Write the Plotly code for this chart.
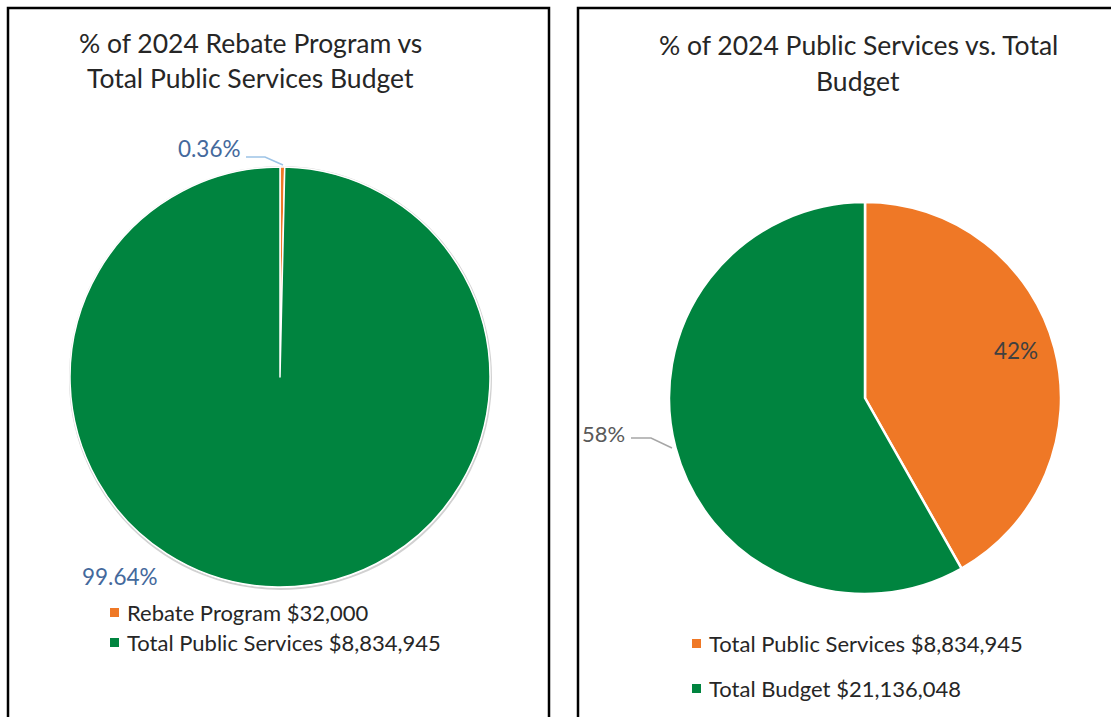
import plotly.graph_objects as go

# ---- data ----
rebate_labels = ["Rebate Program", "Total Public Services"]
rebate_values = [32000, 8834945]

budget_labels = ["Total Public Services", "Total Budget"]
public_services = 8834945
total_budget = 21136048
# slices: public services share vs. the rest of the budget
budget_values = [public_services, total_budget - public_services]
budget_legend_values = [public_services, total_budget]

colors = ["#EF7826", "#00843F"]

W, H = 1111, 717
FONT = "Lato, 'Open Sans', sans-serif"


def px(x):
    return x / W


def py(y):
    return 1 - y / H


def pct(values, i, digits):
    return f"{values[i] / sum(values) * 100:.{digits}f}%"


fig = go.Figure()

fig.add_trace(go.Pie(
    labels=rebate_labels, values=rebate_values, sort=False,
    direction="clockwise", rotation=0,
    marker=dict(colors=colors, line=dict(color="white", width=1.5)),
    textinfo="none", hoverinfo="label+value+percent", showlegend=False,
    domain=dict(x=[px(70), px(490)], y=[py(587), py(167)]),
))

fig.add_trace(go.Pie(
    labels=budget_labels, values=budget_values, sort=False,
    direction="clockwise", rotation=0,
    marker=dict(colors=colors, line=dict(color="white", width=2.5)),
    textinfo="none", hoverinfo="label+value+percent", showlegend=False,
    domain=dict(x=[px(669), px(1061)], y=[py(594), py(202)]),
))

shapes = []
annotations = []

# panel frames
for x0, x1 in [(8, 549), (578, 1125)]:
    shapes.append(dict(type="rect", xref="paper", yref="paper",
                       x0=px(x0), x1=px(x1), y0=py(740), y1=py(8),
                       line=dict(color="black", width=2.5)))

# soft shadow under the left pie
shapes.append(dict(type="circle", xref="paper", yref="paper", layer="below",
                   x0=px(70), x1=px(491), y0=py(589), y1=py(167),
                   line=dict(color="rgba(0,0,0,0.18)", width=2),
                   fillcolor="rgba(0,0,0,0)"))


def text(x, y, s, size, color, xanchor="center"):
    annotations.append(dict(x=px(x), y=py(y), xref="paper", yref="paper",
                            text=s, showarrow=False, xanchor=xanchor,
                            yanchor="middle",
                            font=dict(family=FONT, size=size, color=color)))


# titles
TITLE = 26.5
text(250, 43, "% of 2024 Rebate Program vs", TITLE, "#262626")
text(250, 78, "Total Public Services Budget", TITLE, "#262626")
text(858, 45, "% of 2024 Public Services vs. Total", TITLE, "#262626")
text(858, 81, "Budget", TITLE, "#262626")

# data labels
blue = "#44699C"
text(243, 149, pct(rebate_values, 0, 2), 22.5, blue, "right")
text(80, 576, pct(rebate_values, 1, 2), 22.5, blue, "left")
text(1016, 350, pct(budget_values, 0, 0), 22.5, "#404040")
text(627, 433, pct(budget_values, 1, 0), 22, "#595959", "right")

# leader lines
shapes.append(dict(type="path", xref="paper", yref="paper",
                   path=f"M {px(246)} {py(157)} L {px(265)} {py(157)} L {px(283)} {py(165)}",
                   line=dict(color="#9DC3E6", width=1.5)))
shapes.append(dict(type="path", xref="paper", yref="paper",
                   path=f"M {px(631)} {py(438)} L {px(651)} {py(438)} L {px(672)} {py(448)}",
                   line=dict(color="#A6A6A6", width=1.5)))

# legends
def legend_row(x, y, color, label):
    shapes.append(dict(type="rect", xref="paper", yref="paper",
                       x0=px(x), x1=px(x + 9), y0=py(y + 5), y1=py(y - 4),
                       fillcolor=color, line=dict(width=0)))
    text(x + 15, y, label, 22, "#262626", "left")


for i, (lab, val) in enumerate(zip(rebate_labels, rebate_values)):
    legend_row(110, 612 + 30 * i, colors[i], f"{lab} ${val:,}")

for i, (lab, val) in enumerate(zip(budget_labels, budget_legend_values)):
    legend_row(692, 643 + 45 * i, colors[i], f"{lab} ${val:,}")

fig.update_layout(
    width=W, height=H, margin=dict(l=0, r=0, t=0, b=0),
    paper_bgcolor="white", plot_bgcolor="white",
    shapes=shapes, annotations=annotations, showlegend=False,
)

fig.write_html("out.html", config={"displayModeBar": False})
